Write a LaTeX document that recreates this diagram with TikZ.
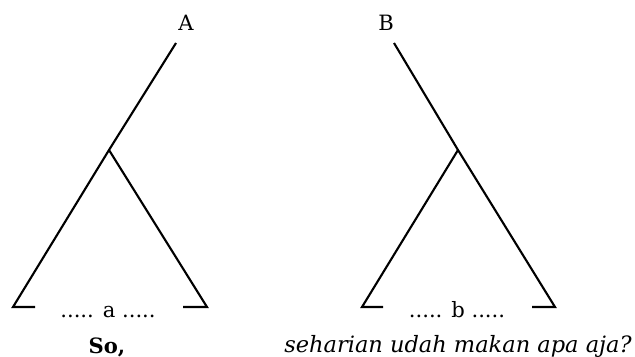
\documentclass[tikz,border=0pt]{standalone}
\usepackage{fontspec}
\setmainfont{DejaVu Serif}
\usetikzlibrary{positioning}

\begin{document}
\begin{tikzpicture}[
    x=0.025cm, y=-0.025cm,
    branch/.style={line width=1.5pt, black, line join=miter},
    lab/.style={font=\fontsize{15}{18}\selectfont, inner sep=0pt, anchor=base},
    gloss/.style={font=\fontsize{15}{18}\selectfont, inner sep=0pt, anchor=base},
]
\useasboundingbox (0,0) rectangle (635,356);

% --- pohon A ---
\node[lab] (labA) at (186,30) {A};
\coordinate (topA) at (176,43);
\coordinate (apexA) at (109,150);
\coordinate (leftA) at (13,307);
\coordinate (leftendA) at (35,307);
\coordinate (rightA) at (207,307);
\coordinate (rightendA) at (183,307);
\draw[branch] (topA) -- (apexA) -- (leftA) -- (leftendA);
\draw[branch] (apexA) -- (rightA) -- (rightendA);
\node[lab] (fillA) at (108,317) {..... a .....};
\node[gloss, font=\fontsize{15}{18}\selectfont\bfseries] (glossA) at (107,353) {So,};

% --- pohon B ---
\node[lab] (labB) at (386,30) {B};
\coordinate (topB) at (394,43);
\coordinate (apexB) at (458,150);
\coordinate (rightB) at (555,307);
\coordinate (rightendB) at (532,307);
\coordinate (leftB) at (362,307);
\coordinate (leftendB) at (383,307);
\draw[branch] (topB) -- (apexB) -- (rightB) -- (rightendB);
\draw[branch] (apexB) -- (leftB) -- (leftendB);
\node[lab] (fillB) at (457,317) {..... b .....};
\node[gloss, font=\fontsize{16}{18}\selectfont\itshape] (glossB) at (458,352)
    {seharian udah makan apa aja?};

\end{tikzpicture}
\end{document}
